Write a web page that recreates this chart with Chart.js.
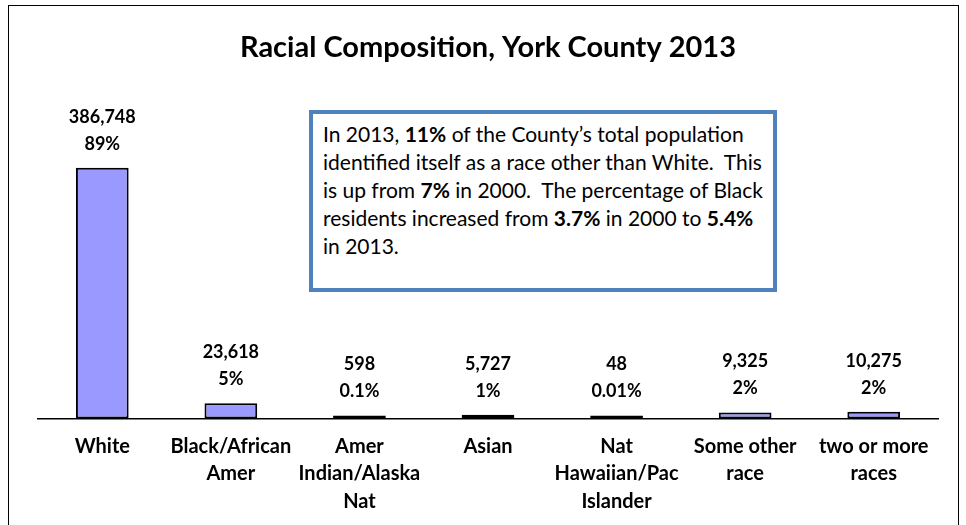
<!DOCTYPE html>
<html>
<head>
<meta charset="utf-8">
<script src="https://cdn.jsdelivr.net/npm/chart.js@4"></script>
<style>
  html, body { margin: 0; padding: 0; background: #fff; }
  #frame {
    position: absolute; left: 8px; top: 5px; width: 951px; height: 600px;
    border: 1px solid #000; box-sizing: border-box;
  }
  #chart { position: absolute; left: 0; top: 0; }
  #note {
    position: absolute; left: 309px; top: 110px; width: 468px; height: 182px;
    box-sizing: border-box; border: 4px solid #4f81bd; background: #fff;
    padding: 6px 0 0 10px; font-family: Lato, sans-serif; font-size: 21px;
    line-height: 28px; color: #000; white-space: nowrap;
  }
</style>
</head>
<body>
<div id="frame"></div>
<canvas id="chart" width="966" height="525"></canvas>
<div id="note">In 2013, <b>11%</b> of the County’s total population<br>identified itself as a race other than White.&nbsp; This<br>is up from <b>7%</b> in 2000.&nbsp; The percentage of Black<br>residents increased from <b>3.7%</b> in 2000 to <b>5.4%</b><br>in 2013.</div>
<script>
/* ================= DATA ================= */

const categories = [
  ["White"],
  ["Black/African", "Amer"],
  ["Amer", "Indian/Alaska", "Nat"],
  ["Asian"],
  ["Nat", "Hawaiian/Pac", "Islander"],
  ["Some other", "race"],
  ["two or more", "races"]
];
const populations = [386748, 23618, 598, 5727, 48, 9325, 10275];
const percentLabels = ["89%", "5%", "0.1%", "1%", "0.01%", "2%", "2%"];

/* ================= VALUE LABELS ================= */

const barLabels = {
  id: "barLabels",
  afterDatasetsDraw(chart) {
    const ctx = chart.ctx;
    const meta = chart.getDatasetMeta(0);
    ctx.save();
    ctx.font = "bold 18px Lato";
    ctx.fillStyle = "#000";
    ctx.textAlign = "center";
    ctx.textBaseline = "middle";
    meta.data.forEach((bar, i) => {
      ctx.fillText(populations[i].toLocaleString("en-US"), bar.x, bar.y - 51);
      ctx.fillText(percentLabels[i], bar.x, bar.y - 24);
    });
    ctx.restore();
  }
};

/* ================= CHART ================= */

new Chart(document.getElementById("chart"), {
  type: "bar",
  data: {
    labels: categories,
    datasets: [
      {
        data: populations,
        backgroundColor: "#9999ff",
        borderColor: "#000",
        borderWidth: 2,
        borderSkipped: false,
        minBarLength: 3,
        barPercentage: 0.41,
        categoryPercentage: 1
      }
    ]
  },
  options: {
    responsive: false,
    animation: false,
    layout: { padding: { left: 38, right: 28, top: 0, bottom: -4 } },
    plugins: {
      legend: { display: false },
      tooltip: { enabled: false },
      title: {
        display: true,
        text: "Racial Composition, York County 2013",
        color: "#000",
        font: { family: "Lato", size: 29, weight: "bold", lineHeight: 1.2 },
        padding: { top: 30, bottom: 62 }
      }
    },
    scales: {
      x: {
        grid: { display: false, drawTicks: false },
        border: { display: true, color: "#000", width: 1.5 },
        ticks: {
          color: "#000",
          padding: 14,
          maxRotation: 0,
          autoSkip: false,
          font: { family: "Lato", size: 20, weight: "bold", lineHeight: 1.375 }
        }
      },
      y: {
        display: false,
        min: 0,
        max: 450000
      }
    }
  },
  plugins: [barLabels]
});
</script>
</body>
</html>
